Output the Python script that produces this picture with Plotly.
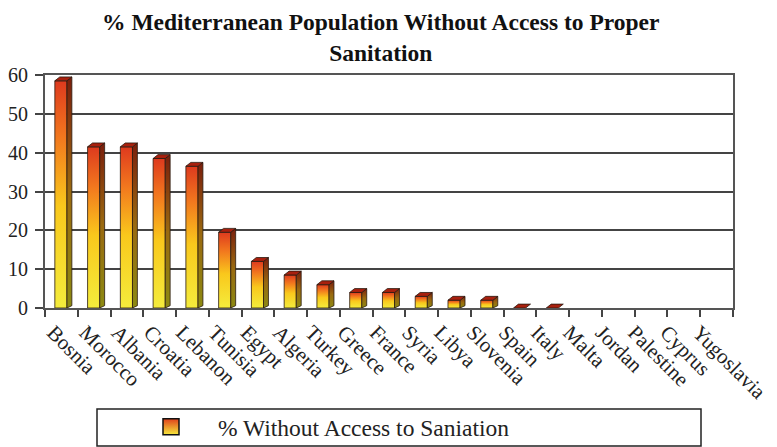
import plotly.graph_objects as go

countries = ["Bosnia", "Morocco", "Albania", "Croatia", "Lebanon", "Tunisia", "Egypt",
             "Algeria", "Turkey", "Greece", "France", "Syria", "Libya", "Slovenia",
             "Spain", "Italy", "Malta", "Jordan", "Palestine", "Cyprus", "Yugoslavia"]
values = [59, 42, 42, 39, 37, 20, 12.5, 9, 6.5, 4.5, 4.5, 3.5, 2.5, 2.5,
          0.3, 0.3, 0, 0, 0, 0, 0]
series_name = "% Without Access to Saniation"
title_text = "% Mediterranean Population Without Access to Proper<br>Sanitation"

FONT = "Liberation Serif"
front_scale = [[0, "#f4ec3c"], [0.45, "#f9c81c"], [0.75, "#f2781e"], [1, "#de3a1e"]]
side_scale = [[0, "#8c8a12"], [0.5, "#9a6a10"], [1, "#7a1e0c"]]
top_color = "#a8200e"
edge = dict(color="#2a1a10", width=0.8)

# geometry of the pseudo-3D column (in axis units)
W_LEFT, W_RIGHT, DX, DY, DROP = -0.2, 0.17, 0.15, 1.0, 0.5

fig = go.Figure()
for i, (c, v) in enumerate(zip(countries, values)):
    if v <= 0:
        continue
    x0, x1 = i + W_LEFT, i + W_RIGHT
    vf = max(v - DROP, 0)
    if vf > 0:
        fig.add_trace(go.Scatter(
            x=[x0, x1, x1, x0, x0], y=[0, 0, vf, vf, 0], mode="lines", fill="toself",
            fillgradient=dict(type="vertical", colorscale=front_scale),
            line=edge, hoverinfo="skip", showlegend=False))
        fig.add_trace(go.Scatter(
            x=[x1, x1 + DX, x1 + DX, x1, x1], y=[0, DY * 0.6, vf + DY, vf, 0], mode="lines",
            fill="toself", fillgradient=dict(type="vertical", colorscale=side_scale),
            line=edge, hoverinfo="skip", showlegend=False))
    fig.add_trace(go.Scatter(
        x=[x0, x1, x1 + DX, x0 + DX, x0], y=[vf, vf, vf + DY, vf + DY, vf], mode="lines",
        fill="toself", fillcolor=top_color, line=edge, hoverinfo="skip", showlegend=False))

# legend entry
fig.add_trace(go.Scatter(
    x=[None], y=[None], mode="markers", name=series_name,
    marker=dict(symbol="square", size=16, color="#e0401c",
                gradient=dict(type="vertical", color="#f6ea3c"),
                line=dict(color="#111", width=1.5)),
    showlegend=True))

fig.update_layout(
    width=777, height=447,
    margin=dict(l=45, r=44, t=75, b=139),
    paper_bgcolor="white", plot_bgcolor="white",
    font=dict(family=FONT, size=19, color="#222"),
    title=dict(text=f"<b>{title_text}</b>", x=0.49, xanchor="center",
               y=1 - 30 / 447, yanchor="top", yref="container",
               font=dict(family=FONT, size=23.5, color="#111")),
    xaxis=dict(range=[-0.5, len(countries) - 0.5], tickmode="array",
               tickvals=[i * 0.985 - 0.25 for i in range(len(countries))], ticktext=countries,
               tickangle=45, ticks="", showgrid=False, zeroline=False,
               ticklabeloverflow="allow", automargin=False, ticklabelstandoff=2,
               showline=True, linecolor="#555", linewidth=2, mirror=True,
               tickfont=dict(family=FONT, size=21, color="#222"),
               minor=dict(tickmode="array",
                          tickvals=[i - 0.5 for i in range(len(countries) + 1)],
                          ticks="outside", ticklen=7, tickcolor="#444", tickwidth=1.5,
                          showgrid=False)),
    yaxis=dict(range=[0, 60], dtick=10, tick0=0, ticks="outside", ticklen=8,
               tickcolor="#444", tickwidth=1.5, ticklabelstandoff=3, automargin=False,
               showgrid=True, gridcolor="#444", gridwidth=2, zeroline=False,
               showline=True, linecolor="#555", linewidth=2, mirror=True,
               tickfont=dict(family=FONT, size=20, color="#222")),
    legend=dict(orientation="h", xref="container", yref="container",
                x=124 / 777, xanchor="left",
                y=1 - 427 / 447, yanchor="middle", itemwidth=84,
                font=dict(family=FONT, size=23.5, color="#222"),
                bgcolor="rgba(0,0,0,0)"),
    showlegend=True,
    shapes=[dict(type="rect", xref="paper", yref="paper",
                 x0=(97 - 45) / 688, x1=(701 - 45) / 688,
                 y0=(308 - 446) / 233, y1=(308 - 409) / 233,
                 line=dict(color="#222", width=1.5), fillcolor="rgba(0,0,0,0)")],
)

fig.write_html("out.html")
